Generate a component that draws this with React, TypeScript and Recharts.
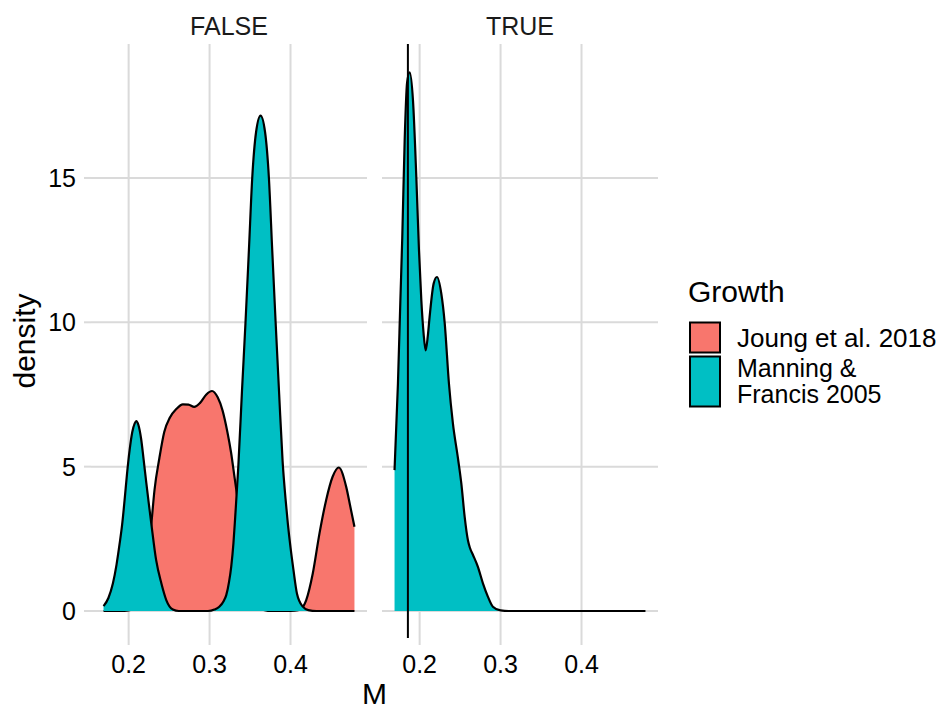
import React from 'react';
import { ComposedChart, Area, XAxis, YAxis, CartesianGrid, ReferenceLine } from 'recharts';

const FONT = '"Liberation Sans", Arial, Helvetica, sans-serif';
const RED = '#F8766D';
const TEAL = '#00BFC4';
const GRID = '#DADADA';

const facetLabels = ['FALSE', 'TRUE'];
const legendTitle = 'Growth';
const seriesNames = ['Joung et al. 2018', 'Manning & Francis 2005'];
const xTitle = 'M';
const yTitle = 'density';
const xTicks = [0.2, 0.3, 0.4];
const yTicks = [0, 5, 10, 15];
const xDomain = [0.1535, 0.4945];
const yDomain = [-0.935, 19.64];

// FALSE panel, Joung et al. 2018
const falseJoungM = [0.169, 0.19, 0.2, 0.206, 0.212, 0.218, 0.223, 0.228, 0.232, 0.238, 0.244, 0.251, 0.259, 0.267, 0.274, 0.281, 0.288, 0.296, 0.303, 0.31, 0.316, 0.322, 0.3265, 0.331, 0.335, 0.34, 0.347, 0.355, 0.363, 0.372, 0.395, 0.405, 0.413, 0.4194, 0.4275, 0.4358, 0.444, 0.452, 0.4597, 0.4688, 0.474, 0.479];
const falseJoungDensity = [0, 0, 0.02, 0.08, 0.25, 0.75, 1.6, 3.0, 4.2, 5.3, 6.2, 6.7, 7.0, 7.16, 7.15, 7.07, 7.2, 7.5, 7.62, 7.4, 6.95, 6.2, 5.5, 4.6, 3.8, 2.7, 1.3, 0.45, 0.1, 0, 0, 0.01, 0.08, 0.38, 1.3, 2.69, 3.84, 4.65, 4.97, 4.3, 3.6, 2.92];

// FALSE panel, Manning & Francis 2005
const falseManningM = [0.169, 0.175, 0.1806, 0.185, 0.1889, 0.192, 0.195, 0.198, 0.2012, 0.2045, 0.2075, 0.2095, 0.212, 0.2155, 0.2185, 0.2218, 0.225, 0.228, 0.234, 0.2404, 0.2465, 0.2547, 0.262, 0.298, 0.306, 0.312, 0.3175, 0.3206, 0.324, 0.3268, 0.3295, 0.3317, 0.3355, 0.34, 0.3444, 0.3486, 0.3527, 0.3575, 0.363, 0.3685, 0.3733, 0.3774, 0.3816, 0.386, 0.3902, 0.3938, 0.3968, 0.4, 0.4035, 0.408, 0.4152, 0.422, 0.432, 0.479];
const falseManningDensity = [0.17, 0.45, 0.96, 1.6, 2.34, 3.0, 3.84, 4.75, 5.57, 6.2, 6.5, 6.58, 6.45, 5.95, 5.25, 4.45, 3.7, 3.03, 1.76, 0.96, 0.38, 0.05, 0, 0, 0.05, 0.15, 0.35, 0.55, 1.0, 1.55, 2.35, 3.27, 5.0, 7.6, 10.0, 12.5, 15.0, 16.6, 17.16, 16.6, 15.0, 12.5, 10.0, 7.5, 5.2, 3.9, 3.0, 2.2, 1.45, 0.6, 0.15, 0.03, 0, 0];

// TRUE panel, Manning & Francis 2005
const trueManningM = [0.169, 0.1732, 0.1762, 0.1785, 0.1815, 0.1845, 0.1877, 0.1918, 0.1959, 0.1992, 0.2021, 0.2049, 0.2074, 0.21, 0.2123, 0.2173, 0.2214, 0.2268, 0.2309, 0.2362, 0.2411, 0.2473, 0.2515, 0.2556, 0.2596, 0.262, 0.2658, 0.272, 0.2782, 0.2843, 0.2905, 0.3, 0.31, 0.479];
const trueManningDensity = [4.88, 7.88, 10.76, 12.9, 16.3, 18.3, 18.66, 17.68, 15.03, 12.49, 10.76, 9.61, 9.03, 9.5, 10.18, 11.34, 11.57, 10.99, 10.0, 7.88, 6.5, 5.3, 4.42, 3.27, 2.46, 2.2, 1.95, 1.53, 0.96, 0.5, 0.15, 0.02, 0, 0];

const trueVlineM = 0.1855;

type Row = { M: number; joung?: number; manning?: number };

function buildRows(series: { key: 'joung' | 'manning'; m: number[]; d: number[] }[]): Row[] {
  const rows: Row[] = [];
  series.forEach((s) => {
    s.m.forEach((m, i) => {
      const r: Row = { M: m };
      r[s.key] = s.d[i];
      rows.push(r);
    });
  });
  rows.sort((a, b) => a.M - b.M);
  return rows;
}

const falseRows = buildRows([
  { key: 'joung', m: falseJoungM, d: falseJoungDensity },
  { key: 'manning', m: falseManningM, d: falseManningDensity },
]);
const trueRows = buildRows([{ key: 'manning', m: trueManningM, d: trueManningDensity }]);

const tickStyle = { fill: '#000', fontSize: 25, fontFamily: FONT };
const tickLineStyle = { stroke: GRID, strokeWidth: 2 };
const OUTLINE = 2.2;

function Panel({ rows, showY, width, margin, vline, showJoung }: any) {
  return (
    <ComposedChart width={width} height={710} data={rows} margin={margin}>
      <CartesianGrid stroke={GRID} strokeWidth={2} syncWithTicks />
      <XAxis
        dataKey="M"
        type="number"
        domain={xDomain}
        ticks={xTicks}
        allowDataOverflow
        interval={0}
        height={72}
        axisLine={false}
        tickLine={tickLineStyle}
        tickSize={7}
        tickMargin={10}
        tick={tickStyle}
        tickFormatter={(v: number) => v.toFixed(1)}
      />
      <YAxis
        type="number"
        domain={yDomain}
        ticks={yTicks}
        allowDataOverflow
        interval={0}
        width={showY ? 91 : 0}
        hide={!showY}
        axisLine={false}
        tickLine={tickLineStyle}
        tickSize={7}
        tickMargin={8}
        tick={tickStyle}
      />
      {showJoung && (
        <Area
          type="monotone"
          dataKey="joung"
          fill={RED}
          fillOpacity={1}
          stroke="#000"
          strokeWidth={OUTLINE}
          connectNulls
          dot={false}
          activeDot={false}
          isAnimationActive={false}
        />
      )}
      <Area
        type="monotone"
        dataKey="manning"
        fill={TEAL}
        fillOpacity={1}
        stroke="#000"
        strokeWidth={OUTLINE}
        connectNulls
        dot={false}
        activeDot={false}
        isAnimationActive={false}
      />
      {vline !== undefined && <ReferenceLine x={vline} stroke="#000" strokeWidth={2} />}
    </ComposedChart>
  );
}

export default function App() {
  return (
    <div style={{ position: 'absolute', left: 0, top: 0, width: 949, height: 710, background: '#fff', fontFamily: FONT }}>
      <div style={{ position: 'absolute', left: 0, top: 0 }}>
        <Panel rows={falseRows} showY width={372} margin={{ top: 44, right: 5, bottom: 0, left: 0 }} showJoung />
      </div>
      <div style={{ position: 'absolute', left: 372, top: 0 }}>
        <Panel rows={trueRows} showY={false} width={300} margin={{ top: 44, right: 14, bottom: 0, left: 10 }} vline={trueVlineM} showJoung={false} />
      </div>
      <svg width={949} height={710} style={{ position: 'absolute', left: 0, top: 0, pointerEvents: 'none' }}>
        <text x={229} y={35} textAnchor="middle" fontSize={25} fontFamily={FONT} fill="#1a1a1a">{facetLabels[0]}</text>
        <text x={520} y={35} textAnchor="middle" fontSize={25} fontFamily={FONT} fill="#1a1a1a">{facetLabels[1]}</text>
        <text x={374.5} y={704} textAnchor="middle" fontSize={30} fontFamily={FONT} fill="#000">{xTitle}</text>
        <text transform="translate(35,341) rotate(-90)" textAnchor="middle" fontSize={30} fontFamily={FONT} fill="#000">{yTitle}</text>
        <text x={688} y={302} fontSize={30} fontFamily={FONT} fill="#000">{legendTitle}</text>
        <rect x={690} y={322.5} width={30} height={30} fill={RED} stroke="#000" strokeWidth={2} />
        <rect x={690} y={356.5} width={30} height={50} fill={TEAL} stroke="#000" strokeWidth={2} />
        <text x={737} y={347} fontSize={26} fontFamily={FONT} fill="#000">{seriesNames[0]}</text>
        <text x={737} y={377} fontSize={25} fontFamily={FONT} fill="#000">Manning &amp;</text>
        <text x={737} y={403} fontSize={25} fontFamily={FONT} fill="#000">Francis 2005</text>
      </svg>
    </div>
  );
}
